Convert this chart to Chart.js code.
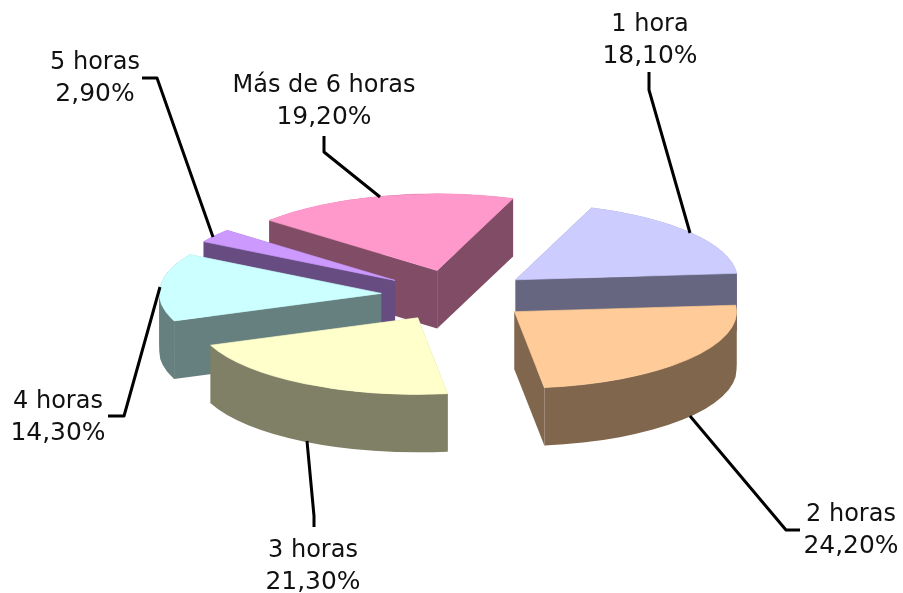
<!DOCTYPE html>
<html>
<head>
<meta charset="utf-8">
<style>
  html, body { margin: 0; padding: 0; background: #fff; }
  canvas { display: block; }
</style>
<script src="https://cdn.jsdelivr.net/npm/chart.js@4/dist/chart.umd.min.js"></script>
</head>
<body>
<canvas id="chart" width="903" height="593"></canvas>
<script>
const categories = ['1 hora', '2 horas', '3 horas', '4 horas', '5 horas', 'Más de 6 horas'];
const percentages = [18.1, 24.2, 21.3, 14.3, 2.9, 19.2];

const topColors = ['#CCCCFF', '#FFCC99', '#FFFFCC', '#CCFFFF', '#CC99FF', '#FF99CC'];
const wallColors = ['#666680', '#80664C', '#808066', '#668080', '#664C80', '#804C66'];

// orden de pintado, de atras hacia delante
const drawOrder = [5, 4, 3, 0, 1, 2];

const TILT = 0.345;
const DEPTH = 58;
const EXPLODE = 75;

// posicion de cada etiqueta y su linea guia, en pixeles de la pagina
const callouts = [
    { x: 650, y: 31, line: [[649, 72], [649, 90], [690, 233]] },
    { x: 851, y: 521, line: [[690, 416], [786, 530], [800, 530]] },
    { x: 313, y: 557, line: [[307, 441], [314, 516], [314, 527]] },
    { x: 58, y: 408, line: [[160, 287], [124, 416], [108, 416]] },
    { x: 95, y: 69, line: [[213, 237], [157, 78], [142, 78]] },
    { x: 324, y: 92, line: [[380, 197], [324, 152], [324, 136]] }
];

function formatPercent(v) {
    return v.toFixed(2).replace('.', ',') + '%';
}

function fillWalls(ctx, arc, color) {
    const drop = DEPTH / TILT;
    const { x, y, startAngle, endAngle, outerRadius: r } = arc;
    ctx.fillStyle = color;
    // caras planas
    [startAngle, endAngle].forEach(a => {
        ctx.beginPath();
        ctx.moveTo(x, y);
        ctx.lineTo(x + Math.cos(a) * r, y + Math.sin(a) * r);
        ctx.lineTo(x + Math.cos(a) * r, y + drop + Math.sin(a) * r);
        ctx.lineTo(x, y + drop);
        ctx.closePath();
        ctx.fill();
    });
    // cara curva, partida en los extremos izquierdo y derecho
    const cuts = [0, Math.PI, 2 * Math.PI].filter(a => a > startAngle && a < endAngle);
    const stops = [startAngle, ...cuts, endAngle];
    for (let k = 0; k < stops.length - 1; k++) {
        ctx.beginPath();
        ctx.arc(x, y, r, stops[k], stops[k + 1]);
        ctx.arc(x, y + drop, r, stops[k + 1], stops[k], true);
        ctx.closePath();
        ctx.fill();
    }
}

const pie3d = {
    id: 'pie3d',
    beforeDatasetDraw(chart) {
        const ctx = chart.ctx;
        const arcs = chart.getDatasetMeta(0).data;
        const cy = arcs[0].y;
        ctx.save();
        ctx.translate(0, cy);
        ctx.scale(1, TILT);
        ctx.translate(0, -cy);
        drawOrder.forEach(i => {
            const arc = arcs[i];
            const mid = (arc.startAngle + arc.endAngle) / 2;
            ctx.save();
            ctx.translate(Math.cos(mid) * EXPLODE, Math.sin(mid) * EXPLODE);
            fillWalls(ctx, arc, wallColors[i]);
            arc.draw(ctx);
            ctx.restore();
        });
        ctx.restore();
        return false;
    },
    afterDraw(chart) {
        const ctx = chart.ctx;
        ctx.save();
        ctx.strokeStyle = '#000';
        ctx.lineWidth = 3;
        ctx.lineJoin = 'round';
        callouts.forEach(c => {
            ctx.beginPath();
            c.line.forEach((p, k) => k ? ctx.lineTo(p[0], p[1]) : ctx.moveTo(p[0], p[1]));
            ctx.stroke();
        });
        ctx.fillStyle = '#111';
        ctx.font = '24px "DejaVu Sans"';
        ctx.textAlign = 'center';
        ctx.textBaseline = 'middle';
        categories.forEach((name, i) => {
            const c = callouts[i];
            ctx.fillText(name, c.x, c.y - 6);
            ctx.save();
            ctx.translate(c.x, c.y);
            ctx.scale(1.04, 1);
            ctx.fillText(formatPercent(percentages[i]), 0, 26);
            ctx.restore();
        });
        ctx.restore();
    }
};

new Chart(document.getElementById('chart'), {
    type: 'pie',
    data: {
        labels: categories,
        datasets: [{
            data: percentages,
            backgroundColor: topColors,
            borderColor: topColors,
            borderWidth: 1,
            clip: false
        }]
    },
    options: {
        responsive: false,
        animation: false,
        events: [],
        rotation: 20,
        radius: 222,
        layout: { padding: { left: 9, bottom: 2 } },
        plugins: { legend: { display: false }, tooltip: { enabled: false } }
    },
    plugins: [pie3d]
});
</script>
</body>
</html>
